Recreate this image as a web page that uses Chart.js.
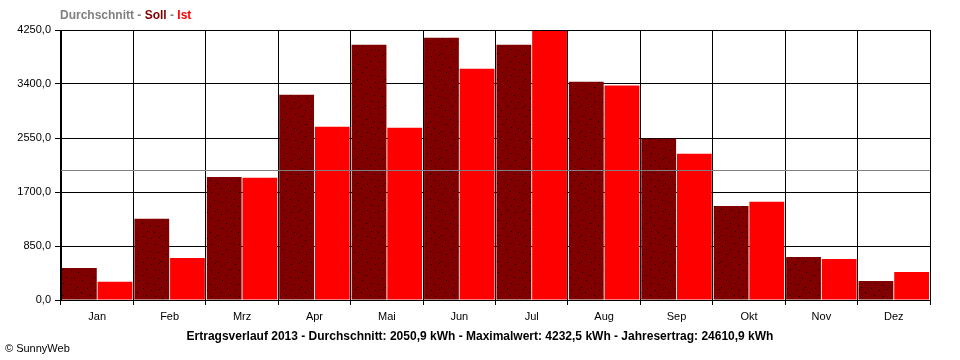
<!DOCTYPE html>
<html><head><meta charset="utf-8">
<script src="https://cdn.jsdelivr.net/npm/chart.js@4/dist/chart.umd.min.js"></script>
<style>
html,body{margin:0;padding:0;background:#fff;}
#wrap{position:relative;width:960px;height:360px;}
#copy{position:absolute;left:5px;top:342px;font:11px "Liberation Sans",Arial,sans-serif;color:#000;white-space:nowrap;}
</style>
</head><body>
<div id="wrap"><canvas id="c" width="960" height="360"></canvas><div id="copy">© SunnyWeb</div></div>
<script>
const months = ["Jan","Feb","Mrz","Apr","Mai","Jun","Jul","Aug","Sep","Okt","Nov","Dez"];
const soll = [504, 1277, 1938, 3231, 4019, 4129, 4019, 3436, 2537, 1481, 678, 299];
const ist  = [289, 662, 1923, 2727, 2711, 3641, 4232.5, 3378, 2301, 1545, 646, 441];
const yTicks = [0, 850, 1700, 2550, 3400, 4250];
const average = 2050.9;
const bottomTitle = "Ertragsverlauf 2013 - Durchschnitt: 2050,9 kWh - Maximalwert: 4232,5 kWh - Jahresertrag: 24610,9 kWh";
const headerParts = [["Durchschnitt", "#808080"], [" - ", "#808080"], ["Soll", "#800000"], [" - ", "#808080"], ["Ist", "#ff0000"]];

// stipple pattern for the "Soll" bars
function makePattern() {
  const pc = document.createElement('canvas');
  pc.width = 28; pc.height = 26;
  const g = pc.getContext('2d');
  g.fillStyle = '#800000';
  g.fillRect(0, 0, 28, 26);
  g.fillStyle = '#000';
  const dots = [[3,2],[11,4],[19,3],[25,6],[6,9],[15,10],[22,12],[2,15],[10,17],[18,18],[26,20],[7,23],[14,24],[21,1]];
  dots.forEach(d => g.fillRect(d[0], d[1], 1, 1));
  return g.createPattern(pc, 'repeat');
}
const fontFam = '"Liberation Sans", Arial, sans-serif';

const extras = {
  id: 'extras',
  afterDatasetsDraw(chart) {
    const {ctx, chartArea} = chart;
    const y = Math.round(chart.scales.y.getPixelForValue(average)) + 0.5;
    ctx.save();
    ctx.strokeStyle = '#808080';
    ctx.lineWidth = 1;
    ctx.beginPath();
    ctx.moveTo(chartArea.left, y);
    ctx.lineTo(chartArea.right, y);
    ctx.stroke();
    ctx.restore();
  },
  afterDraw(chart) {
    const ctx = chart.ctx;
    ctx.save();
    ctx.font = 'bold 12px ' + fontFam;
    ctx.textBaseline = 'middle';
    let x = 60;
    headerParts.forEach(p => {
      ctx.fillStyle = p[1];
      ctx.fillText(p[0], x, 16);
      x += ctx.measureText(p[0]).width;
    });
    ctx.fillStyle = '#000';
    ctx.textAlign = 'center';
    ctx.fillText(bottomTitle, 480, 337);
    ctx.restore();
  }
};

new Chart(document.getElementById('c'), {
  type: 'bar',
  data: {
    labels: months,
    datasets: [
      { label: 'Soll', data: soll, backgroundColor: makePattern(), borderWidth: 0 },
      { label: 'Ist', data: ist, backgroundColor: '#ff0000', borderWidth: 0 }
    ]
  },
  options: {
    responsive: false,
    animation: false,
    devicePixelRatio: 1,
    layout: { padding: { top: 30, right: 30, left: 0, bottom: 0 } },
    datasets: { bar: { categoryPercentage: 0.985, barPercentage: 0.975 } },
    plugins: { legend: { display: false }, tooltip: { enabled: false }, title: { display: false } },
    scales: {
      x: {
        grid: { color: '#000', lineWidth: 1, tickLength: 5, offset: true, drawOnChartArea: true },
        border: { color: '#000', width: 1 },
        ticks: { color: '#000', font: { family: fontFam, size: 11 }, padding: 5, maxRotation: 0 },
        title: { display: false },
        afterFit(s) { s.height = 60; }
      },
      y: {
        min: 0, max: 4250,
        afterBuildTicks(s) { s.ticks = yTicks.map(v => ({ value: v })); },
        grid: { color: '#000', lineWidth: 1, tickLength: 6 },
        border: { color: '#000', width: 1 },
        ticks: { color: '#000', font: { family: fontFam, size: 11 }, padding: 4,
          callback: v => v.toFixed(1).replace('.', ',') },
        afterFit(s) { s.width = 61; }
      }
    }
  },
  plugins: [extras]
});
</script>
</body></html>
